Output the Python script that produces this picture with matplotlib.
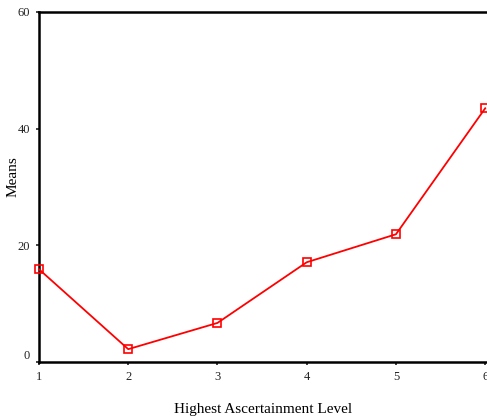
import matplotlib.pyplot as plt

levels = [1, 2, 3, 4, 5, 6]
means = [15.9, 2.2, 6.7, 17.1, 21.9, 43.5]
yticks = [0, 20, 40, 60]

plt.rcParams['font.family'] = ['Liberation Serif', 'DejaVu Serif']

fig = plt.figure(figsize=(4.87, 4.20), dpi=100)
W, H = 487, 420
ax = fig.add_axes([39 / W, (H - 362) / H, (487 - 39) / W, 350 / H])

ax.plot(levels, means, color='#ff0000', linewidth=1.3, marker='s',
        markersize=5.5, markerfacecolor='none', markeredgecolor='#ff0000',
        markeredgewidth=1.2, clip_on=False, zorder=3)

ax.set_xlim(1, 6.02)
ax.set_ylim(0, 60)
ax.set_xticks(levels)
ax.set_yticks(yticks)

for s in ['left', 'bottom', 'top']:
    ax.spines[s].set_linewidth(1.8)
ax.spines['right'].set_visible(False)

ax.tick_params(axis='both', direction='out', length=2.5, width=1.2,
               labelsize=9, colors='#222222')
ax.tick_params(axis='x', pad=4)
ax.tick_params(axis='y', pad=4)
ax.set_yticklabels([str(v) for v in yticks])
ax.get_yticklabels()[0].set_verticalalignment('bottom')

ax.set_ylabel('Means', fontsize=11)
ax.yaxis.set_label_coords(-0.043, 0.53)
ax.set_xlabel('Highest Ascertainment Level', fontsize=11)
ax.xaxis.set_label_coords(0.5, -0.116)

fig.savefig('out.png', dpi=100)
